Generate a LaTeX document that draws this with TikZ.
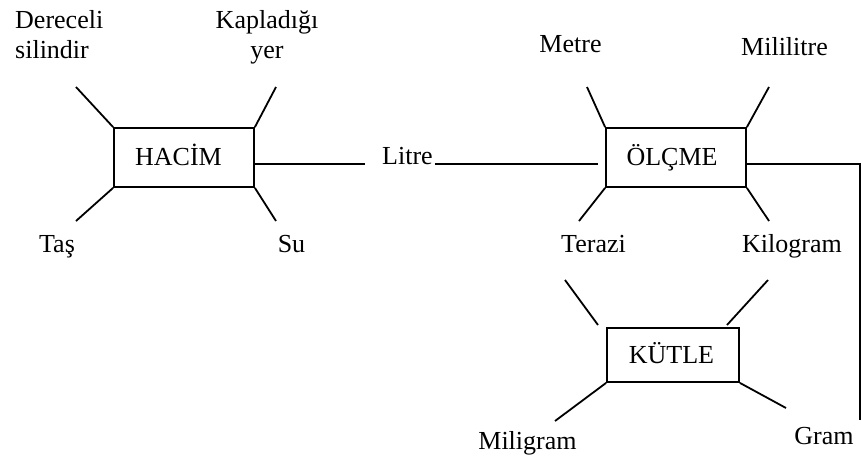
\documentclass[tikz,border=0pt]{standalone}
\usepackage{fontspec}
\setmainfont{Liberation Serif}
\begin{document}
\begin{tikzpicture}[x=1pt,y=-1pt,
  lw/.style={line width=1.8pt},
  conbox/.style={draw,lw,minimum width=140pt,minimum height=59pt,inner sep=0pt},
  lbl/.style={inner sep=0pt,anchor=base,font=\fontsize{26}{30}\selectfont}]
\useasboundingbox (0,0) rectangle (861,467);
% boxes
\node[conbox] (hacim) at (184,157.5) {};
\node[conbox] (olcme) at (676,157.5) {};
\node[conbox,minimum width=132pt,minimum height=54pt] (kutle) at (673,355) {};
\node[lbl] (thacim) at (178.5,165) {HACİM};
\node[lbl] (tolcme) at (672,165) {ÖLÇME};
\node[lbl] (tkutle) at (671.5,363) {KÜTLE};
% labels
\node[lbl,anchor=base west,align=left] (dereceli) at (15,58) {Dereceli\\silindir};
\node[lbl,align=center] (kapladigi) at (267,58) {Kapladığı\\yer};
\node[lbl] (tas) at (57,252) {Taş};
\node[lbl] (su) at (291.5,252) {Su};
\node[lbl] (litre) at (407.5,164) {Litre};
\node[lbl] (metre) at (570.5,52) {Metre};
\node[lbl] (mililitre) at (784.5,55) {Mililitre};
\node[lbl] (terazi) at (593.5,252) {Terazi};
\node[lbl] (kilogram) at (792,252) {Kilogram};
\node[lbl] (miligram) at (527.5,449) {Miligram};
\node[lbl] (gram) at (824,444) {Gram};
% free ends
\coordinate (hTL) at (76,87);
\coordinate (hTR) at (276,87);
\coordinate (hBL) at (76,221);
\coordinate (hBR) at (276,221);
\coordinate (hR) at (365,164);
\coordinate (lR) at (598,164);
\coordinate (oTL) at (587,87);
\coordinate (oTR) at (769,87);
\coordinate (oBL) at (579,221);
\coordinate (oBR) at (769,221);
\coordinate (oCorner) at (860,164);
\coordinate (oEnd) at (860,420);
\coordinate (kTLa) at (598,325);
\coordinate (kTLb) at (565,280);
\coordinate (kTRa) at (727,325);
\coordinate (kTRb) at (768,280);
\coordinate (kBL) at (555,421);
\coordinate (kBR) at (786,408);
% connectors
\draw[lw] (hacim.north west) -- (hTL);
\draw[lw] (hacim.north east) -- (hTR);
\draw[lw] (hacim.south west) -- (hBL);
\draw[lw] (hacim.south east) -- (hBR);
\draw[lw] ([yshift=-6.5pt]hacim.east) -- (hR);
\draw[lw] ([xshift=2pt]litre.base east) -- (lR);
\draw[lw] (olcme.north west) -- (oTL);
\draw[lw] (olcme.north east) -- (oTR);
\draw[lw] (olcme.south west) -- (oBL);
\draw[lw] (olcme.south east) -- (oBR);
\draw[lw] ([yshift=-6.5pt]olcme.east) -- (oCorner) -- (oEnd);
\draw[lw] (kTLa) -- (kTLb);
\draw[lw] (kTRa) -- (kTRb);
\draw[lw] (kutle.south west) -- (kBL);
\draw[lw] (kutle.south east) -- (kBR);
\end{tikzpicture}
\end{document}
